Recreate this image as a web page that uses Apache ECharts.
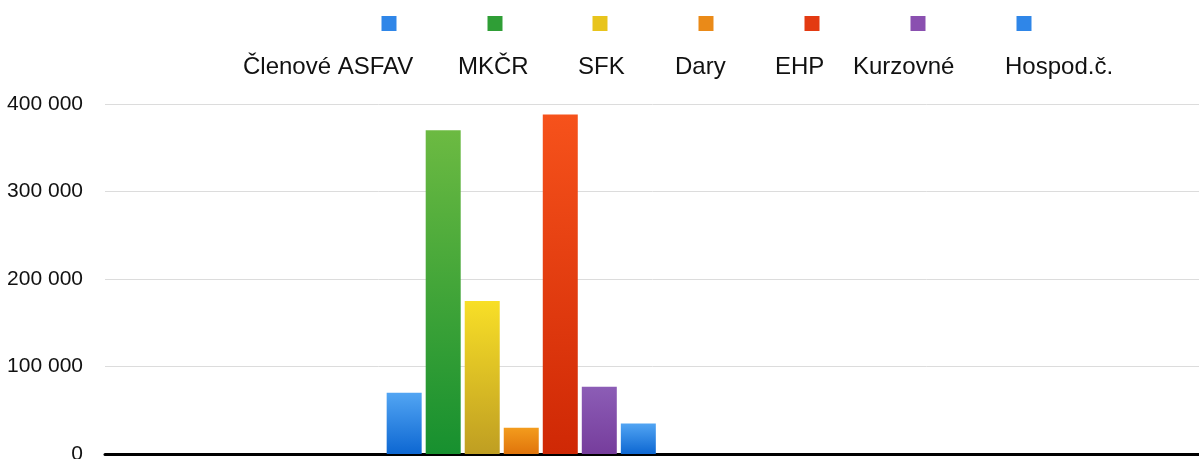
<!DOCTYPE html>
<html>
<head>
<meta charset="utf-8">
<script src="https://cdn.jsdelivr.net/npm/echarts@6/dist/echarts.min.js"></script>
<style>
  html, body { margin: 0; padding: 0; background: #fff; }
  #chart { width: 1199px; height: 459px; }
</style>
</head>
<body>
<div id="chart"></div>
<script>
// one category, only group in the chart
const categories = [''];
const seriesNames = ['Členové ASFAV', 'MKČR', 'SFK', 'Dary', 'EHP', 'Kurzovné', 'Hospod.č.'];
const seriesValues = [70000, 370000, 175000, 30000, 388000, 77000, 35000];
const yTicks = [0, 100000, 200000, 300000, 400000];

// top / bottom gradient colours, legend icon colour
const barColors = [
  ['#52a5f3', '#0d67d2', '#2f86e8'],
  ['#6cba42', '#17902f', '#2f9e36'],
  ['#f8df27', '#bf9e22', '#e8c41c'],
  ['#f39c1d', '#e0740b', '#ea8a18'],
  ['#f6521b', '#cf2805', '#e33a12'],
  ['#8c5db6', '#763d9c', '#8a50b0'],
  ['#52a5f3', '#0d67d2', '#2f86e8']
];

// legend layout (icon centres and text starts, px)
const iconX = [389, 495, 600, 706, 812, 918, 1024];
const textX = [243, 458, 578, 675, 775, 853, 1005];

const font = "'Liberation Sans', Arial, Helvetica, sans-serif";

const chart = echarts.init(document.getElementById('chart'));

const iconLegends = seriesNames.map((name, i) => ({
  data: [{ name: name, itemStyle: { color: barColors[i][2] } }],
  left: iconX[i] - 7.5,
  top: 16,
  padding: 0,
  itemWidth: 15,
  itemHeight: 15,
  icon: 'rect',
  formatter: () => '',
}));

const textLegends = seriesNames.map((name, i) => ({
  data: [name],
  left: textX[i] - 5,
  top: 55,
  padding: 0,
  itemWidth: 0,
  itemHeight: 24,
  icon: 'rect',
  textStyle: { fontSize: 24, color: '#111', fontFamily: font },
}));

const option = {
  backgroundColor: '#fff',
  animation: false,
  legend: iconLegends.concat(textLegends),
  grid: {
    left: 105,
    right: -16,
    top: 104,
    bottom: 5,
    containLabel: false,
    outerBoundsMode: 'none',
  },
  xAxis: {
    type: 'category',
    data: categories,
    min: -1,
    max: 2,
    axisTick: { show: false },
    axisLabel: { show: false },
    axisLine: { lineStyle: { color: '#000', width: 3 } },
    splitLine: { show: false },
  },
  yAxis: {
    type: 'value',
    min: yTicks[0],
    max: yTicks[yTicks.length - 1],
    interval: 100000,
    axisLine: { show: false },
    axisTick: { show: false },
    axisLabel: {
      margin: 22,
      fontSize: 21,
      color: '#111',
      fontFamily: font,
      formatter: (v) => String(v).replace(/\B(?=(\d{3})+(?!\d))/g, ' '),
    },
    splitLine: { lineStyle: { color: '#dcdcdc', width: 1 } },
  },
  series: seriesNames.map((name, i) => ({
    name: name,
    type: 'bar',
    data: [seriesValues[i]],
    barWidth: 35,
    barGap: '11.5%',
    itemStyle: {
      color: new echarts.graphic.LinearGradient(0, 0, 0, 1, [
        { offset: 0, color: barColors[i][0] },
        { offset: 1, color: barColors[i][1] },
      ]),
    },
  })),
};

chart.setOption(option);
</script>
</body>
</html>
